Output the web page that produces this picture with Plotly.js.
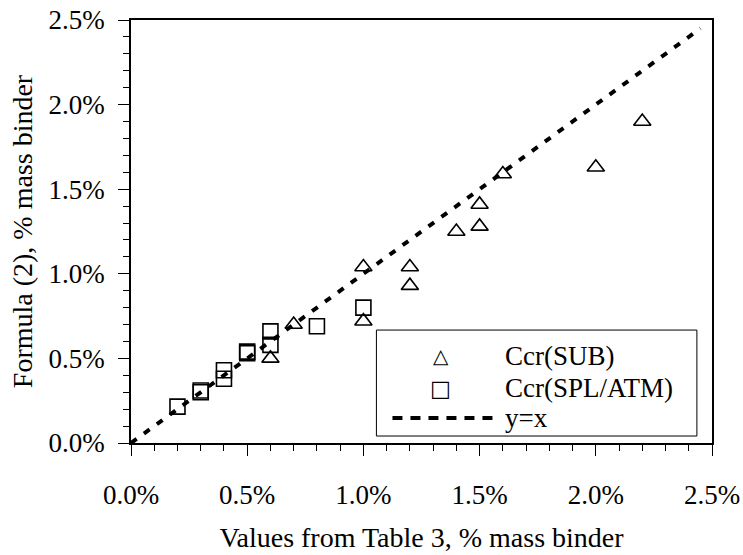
<!DOCTYPE html>
<html>
<head>
<meta charset="utf-8">
<script src="https://cdn.plot.ly/plotly-3.0.1.min.js"></script>
<style>html,body{margin:0;padding:0;background:#fff;}#chart{width:743px;height:555px;}</style>
</head>
<body>
<div id="chart"></div>
<script>
// Values in % mass binder
const subX = [0.6, 0.7, 1.0, 1.0, 1.2, 1.2, 1.4, 1.5, 1.5, 1.6, 2.0, 2.2];
const subY = [0.50, 0.70, 1.04, 0.72, 1.04, 0.93, 1.25, 1.41, 1.28, 1.59, 1.63, 1.90];
const splX = [0.2, 0.3, 0.3, 0.4, 0.4, 0.5, 0.5, 0.6, 0.6, 0.8, 1.0];
const splY = [0.215, 0.30, 0.31, 0.43, 0.38, 0.53, 0.54, 0.66, 0.58, 0.69, 0.80];
const lineX = [0, 2.45];
const lineY = [0, 2.45];
const seriesNames = ['Ccr(SUB)', 'Ccr(SPL/ATM)', 'y=x'];
const legendGlyphs = ['\u25B3', '\u25A1'];
const tickVals = [0, 0.5, 1.0, 1.5, 2.0, 2.5];
const tickText = ['0.0%', '0.5%', '1.0%', '1.5%', '2.0%', '2.5%'];

function mkFont(sz) { return {family: 'Liberation Serif', size: sz, color: '#000'}; }

// both marker series in one trace, symbol per point
const allX = subX.concat(splX);
const allY = subY.concat(splY);
const allSym = subX.map(function(){ return 'triangle-up-open'; }).concat(splX.map(function(){ return 'square-open'; }));
const allName = subX.map(function(){ return seriesNames[0]; }).concat(splX.map(function(){ return seriesNames[1]; }));

const traces = [
  {x: allX, y: allY, text: allName, type: 'scatter', mode: 'markers', showlegend: false,
   marker: {symbol: allSym, size: 15, color: '#000', line: {width: 1.6, color: '#000'}}}
];

function mkAxis(title, titleStandoff, lblStandoff) {
  return {
    range: [0, 2.5], tickmode: 'array', tickvals: tickVals, ticktext: tickText,
    ticks: 'outside', ticklen: 11, tickwidth: 1, tickcolor: '#000',
    ticklabelstandoff: lblStandoff,
    showline: true, linecolor: '#000', linewidth: 1.5, mirror: true,
    showgrid: false, zeroline: false, tickfont: mkFont(27),
    minor: {dtick: 0.1, ticks: 'outside', ticklen: 6, tickcolor: '#000', tickwidth: 1, showgrid: false},
    title: {text: title, font: mkFont(28), standoff: titleStandoff}
  };
}

const legX0 = 0.4224, legX1 = 0.974, legY0 = 0.0165, legY1 = 0.267;
const rowY = [0.2057, 0.130, 0.059];
const textX = 0.6397, symX = 0.5328;

const annotations = [
  {text: seriesNames[0], x: textX, y: rowY[0], xanchor: 'left', yanchor: 'middle', font: mkFont(27)},
  {text: seriesNames[1], x: textX, y: rowY[1], xanchor: 'left', yanchor: 'middle', font: mkFont(27)},
  {text: seriesNames[2], x: textX, y: rowY[2], xanchor: 'left', yanchor: 'middle', font: mkFont(27)},
  {text: legendGlyphs[0], x: symX, y: rowY[0], xanchor: 'center', yanchor: 'middle', font: {family: 'DejaVu Sans', size: 20, color: '#000'}},
  {text: legendGlyphs[1], x: symX, y: rowY[1], xanchor: 'center', yanchor: 'middle', font: {family: 'DejaVu Sans', size: 22, color: '#000'}}
].map(function(a){ return Object.assign({xref: 'paper', yref: 'paper', showarrow: false}, a); });

const layout = {
  width: 743, height: 555,
  margin: {l: 131, r: 31, t: 20, b: 112},
  paper_bgcolor: '#fff', plot_bgcolor: '#fff',
  font: mkFont(27),
  showlegend: false,
  xaxis: mkAxis('Values from Table 3, % mass binder', 18, 16),
  yaxis: mkAxis('Formula (2), % mass binder', 8, 8),
  annotations: annotations,
  shapes: [
    {type: 'line', xref: 'x', yref: 'y', x0: lineX[0], y0: lineY[0], x1: lineX[1], y1: lineY[1],
     line: {color: '#000', width: 4, dash: '7px,9px'}, layer: 'above'},
    {type: 'rect', xref: 'paper', yref: 'paper', x0: legX0, x1: legX1, y0: legY0, y1: legY1,
     line: {color: '#000', width: 1}, fillcolor: 'rgba(0,0,0,0)', layer: 'below'},
    {type: 'line', xref: 'paper', yref: 'paper', x0: 0.45, x1: 0.6224, y0: rowY[2], y1: rowY[2],
     line: {color: '#000', width: 4, dash: '10px,8px'}}
  ]
};

Plotly.newPlot('chart', traces, layout, {displayModeBar: false});
</script>
</body>
</html>
